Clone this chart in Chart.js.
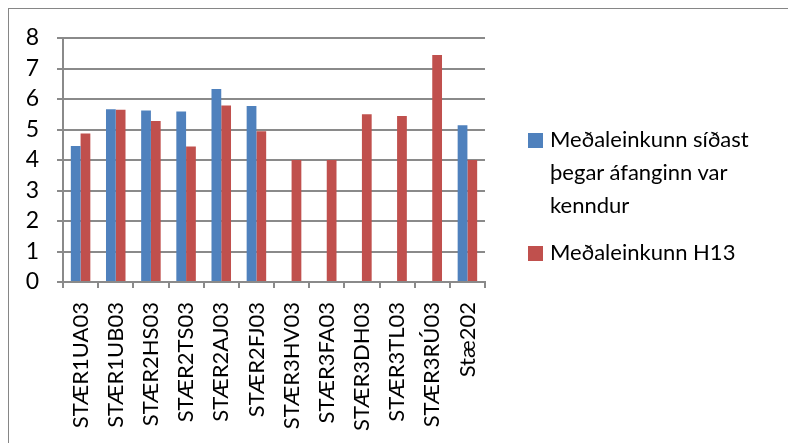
<!DOCTYPE html>
<html>
<head>
<meta charset="utf-8">
<script src="https://cdn.jsdelivr.net/npm/chart.js@4"></script>
<style>
    html, body { margin: 0; padding: 0; background: #fff; overflow: hidden; }
    #wrap { position: relative; width: 788px; height: 443px; overflow: hidden; }
    #frame { position: absolute; left: 8px; top: 8px; width: 900px; height: 600px; border: 1px solid #868686; box-sizing: border-box; }
    #legend { position: absolute; left: 528px; top: 0; font-family: Lato, sans-serif; font-size: 22px; color: #000; }
    .item { position: absolute; white-space: nowrap; line-height: 33px; }
    .box { position: absolute; width: 15px; height: 15px; }
    .txt { position: absolute; left: 22px; top: 3px; }
</style>
</head>
<body>
<div id="wrap">
    <canvas id="myChart" width="788" height="443"></canvas>
    <div id="frame"></div>
    <div id="legend"></div>
</div>
<script>
var categories = ["STÆR1UA03", "STÆR1UB03", "STÆR2HS03", "STÆR2TS03", "STÆR2AJ03", "STÆR2FJ03",
    "STÆR3HV03", "STÆR3FA03", "STÆR3DH03", "STÆR3TL03", "STÆR3RÚ03", "Stæ202"];
var lastTaught = [4.46, 5.66, 5.62, 5.59, 6.33, 5.77, null, null, null, null, null, 5.14];
var h13 = [4.87, 5.65, 5.28, 4.44, 5.79, 4.94, 4.0, 4.0, 5.5, 5.44, 7.44, 4.0];
var seriesNames = [["Meðaleinkunn síðast", "þegar áfanginn var", "kenndur"], ["Meðaleinkunn H13"]];
var seriesColors = ["#4F81BD", "#C0504D"];
var gridColor = "#8a8a8a";

function drawLegend() {
    var legend = document.getElementById("legend");
    var tops = [131, 244];
    for (var i = 0; i < seriesNames.length; i++) {
        var item = document.createElement("div");
        item.className = "item";
        item.style.top = (tops[i] - 12) + "px";
        var box = document.createElement("div");
        box.className = "box";
        box.style.background = seriesColors[i];
        box.style.top = "14px";
        var txt = document.createElement("div");
        txt.className = "txt";
        txt.innerHTML = seriesNames[i].join("<br>");
        item.appendChild(box);
        item.appendChild(txt);
        legend.appendChild(item);
    }
}

function drawChart() {
    var ctx = document.getElementById("myChart").getContext("2d");
    Chart.defaults.font.family = "Lato, sans-serif";
    Chart.defaults.color = "#000";
    var myChart = new Chart(ctx, {
        type: "bar",
        data: {
            labels: categories,
            datasets: [
                {
                    label: seriesNames[0].join(" "),
                    data: lastTaught,
                    backgroundColor: seriesColors[0],
                    categoryPercentage: 0.555,
                    barPercentage: 1,
                },
                {
                    label: seriesNames[1].join(" "),
                    data: h13,
                    backgroundColor: seriesColors[1],
                    categoryPercentage: 0.555,
                    barPercentage: 1,
                },
            ],
        },
        options: {
            responsive: false,
            animation: false,
            layout: {
                padding: { top: 38, right: 303, left: 0, bottom: 0 },
            },
            plugins: {
                legend: { display: false },
                tooltip: { enabled: false },
            },
            scales: {
                x: {
                    grid: {
                        drawOnChartArea: false,
                        drawTicks: true,
                        tickLength: 6,
                        color: gridColor,
                        lineWidth: 2,
                    },
                    border: { display: true, color: gridColor, width: 2 },
                    ticks: {
                        autoSkip: false,
                        maxRotation: 90,
                        minRotation: 90,
                        padding: 14,
                        font: { size: 22 },
                    },
                    afterFit: function (axis) {
                        axis.height = 443 - 282;
                    },
                },
                y: {
                    min: 0,
                    max: 8,
                    grid: {
                        drawTicks: true,
                        tickLength: 6,
                        color: gridColor,
                        lineWidth: 2,
                    },
                    border: { display: true, color: gridColor, width: 2 },
                    ticks: {
                        stepSize: 1,
                        autoSkip: false,
                        padding: 18,
                        font: { size: 23 },
                    },
                    afterFit: function (axis) {
                        axis.width = 63;
                    },
                },
            },
        },
    });
}

window.onload = function () {
    drawChart();
    drawLegend();
};
</script>
</body>
</html>
